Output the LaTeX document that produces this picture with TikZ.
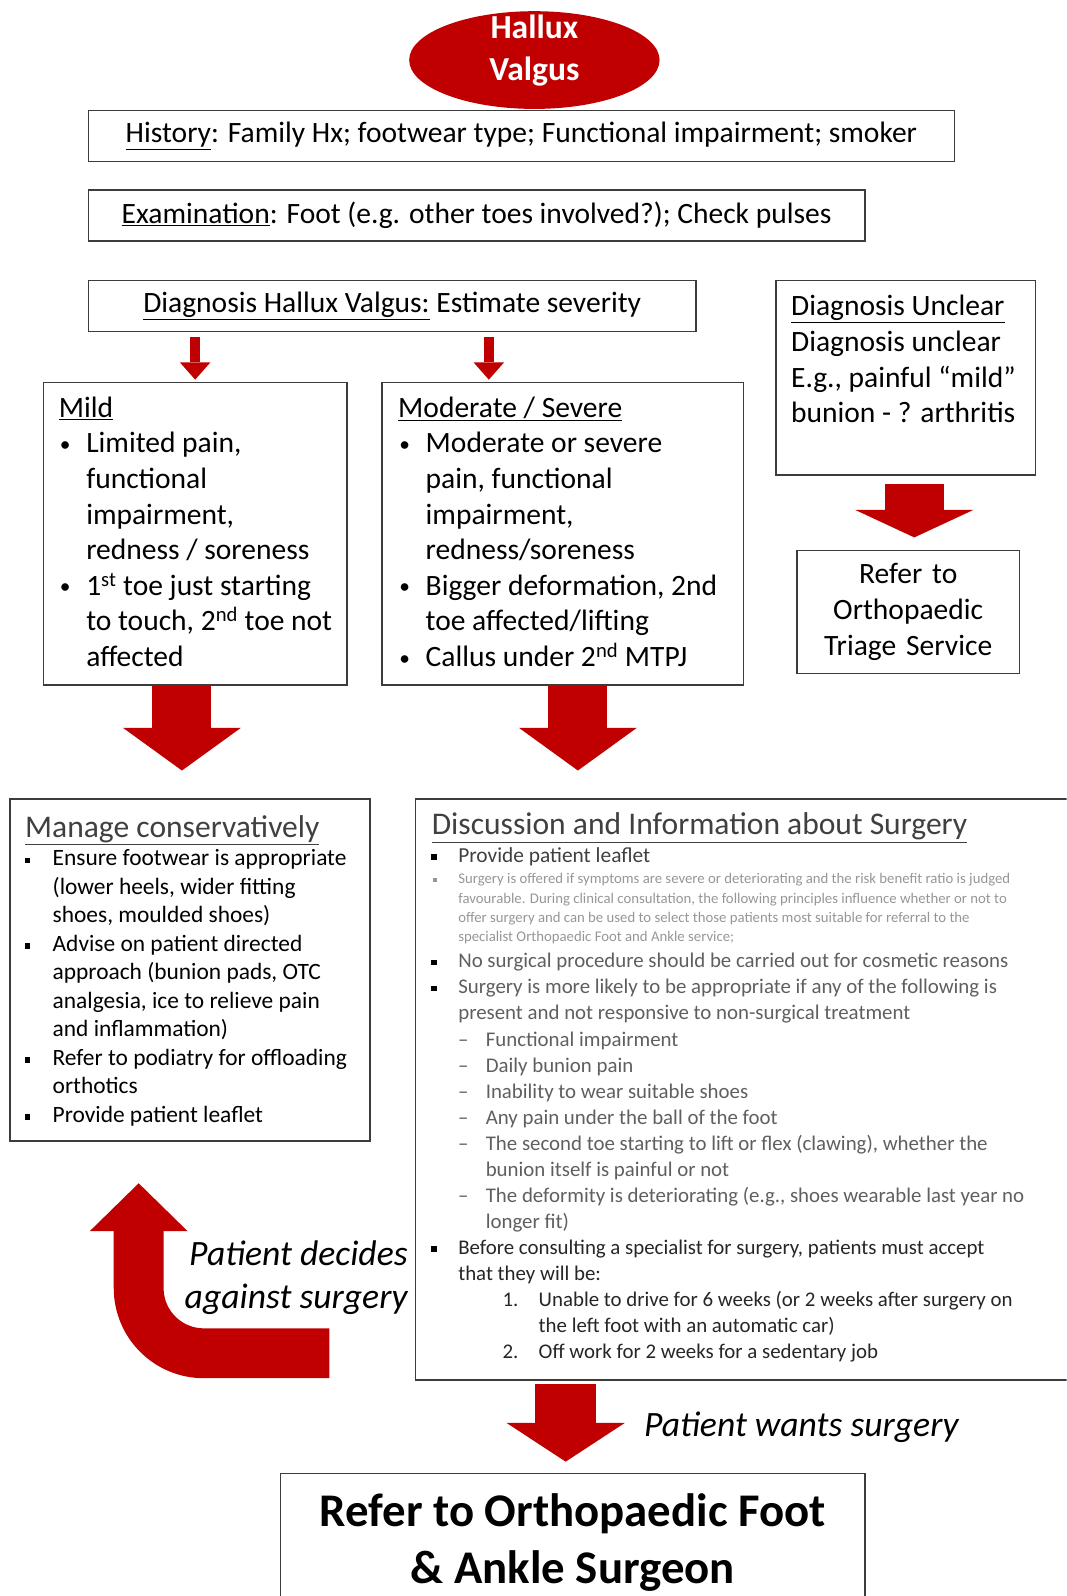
\documentclass[tikz,border=0pt]{standalone}
\usepackage{fontspec}
\setmainfont{Carlito}
\usepackage{enumitem}
\usepackage{xcolor}
\usepackage{tikz}
\usetikzlibrary{shapes.geometric, arrows.meta, positioning, calc}
\definecolor{hvred}{RGB}{192,0,0}
\definecolor{boxline}{RGB}{60,60,60}
\definecolor{titlegray}{RGB}{64,64,64}
\definecolor{midgray}{RGB}{95,95,95}
\definecolor{faintgray}{RGB}{150,150,150}
\SetEnumitemKey{tight}{topsep=0pt, partopsep=0pt, itemsep=0pt, parsep=0pt}
\newcommand{\boxtext}[3]{\makebox[#1][l]{\parbox[t][#2][t]{900pt}{\raggedright #3}}}
\newcommand{\dotbul}{\raisebox{1.5pt}{\fontsize{21pt}{21pt}\selectfont\textbullet}}
\newcommand{\sqbul}{\textcolor{black}{\raisebox{2.6pt}{\rule{5.5pt}{5.5pt}}}}
\newcommand{\smallbul}{\textcolor{faintgray}{\raisebox{1.8pt}{\rule{3.5pt}{3.5pt}}}}

\begin{document}
\begin{tikzpicture}[x=1pt, y=-1pt,
  box/.style={draw=boxline, line width=1.5pt, inner sep=0pt, text=black,
              font=\fontsize{29pt}{35pt}\selectfont},
  linebox/.style={box, minimum height=50pt, anchor=north west},
  oval/.style={ellipse, fill=hvred, minimum width=246pt, minimum height=96pt, inner sep=0pt},
  ovaltext/.style={text=white, align=center, yshift=9pt, inner sep=0pt,
                   font=\fontsize{33pt}{41pt}\selectfont\bfseries},
  smallarr/.style={hvred, line width=10pt, shorten <=5pt, shorten >=2pt,
                   -{Triangle[length=17pt, width=30pt, line width=0pt]}},
  bigarr/.style={hvred, line width=58pt, -{Triangle[length=#1, width=116pt, line width=0pt]}},
  bigarr/.default=42pt,
  backarr/.style={hvred, line width=49pt, rounded corners=64pt, shorten >=41pt,
                  -{Triangle[length=47pt, width=96pt, line width=0pt]}},
  saytext/.style={inner sep=0pt, outer sep=0pt, text=black,
                  font=\fontsize{35pt}{42pt}\selectfont\itshape}
]
\useasboundingbox (0,0) rectangle (1048,1568);
\clip (0,0) rectangle (1048,1568);

% ===== Title =====
\node[oval, label={[ovaltext]center:Hallux\\Valgus}] (hv) at (525,59) {};

% ===== History / examination / diagnosis =====
\node[linebox, minimum width=851pt] (hist) at (86,108)
     {\underline{History}: Family Hx; footwear type; Functional impairment; smoker};
\node[linebox, minimum width=763pt, below right=26.5pt and 0pt of hist.south west] (exam)
     {\underline{Examination}: Foot (e.g. other toes involved?); Check pulses};
\node[linebox, minimum width=597pt, below right=37.5pt and 0pt of exam.south west] (diag)
     {\underline{Diagnosis Hallux Valgus:} Estimate severity};

\node[box, right=77pt of diag.north east, anchor=north west, inner xsep=15pt, inner ysep=14.5pt] (unclear)
     {\boxtext{225pt}{162pt}{\underline{Diagnosis Unclear}\\ Diagnosis unclear\\ E.g., painful “mild”\\ bunion - ? arthritis}};

% ===== Severity boxes =====
\node[box, anchor=north west, inner xsep=15pt, inner ysep=14pt] (mild) at (42,375)
     {\boxtext{268pt}{269pt}{\underline{Mild}
      \begin{itemize}[tight, leftmargin=27pt, labelsep=15.5pt, label=\dotbul]
      \item Limited pain,\\ functional\\ impairment,\\ redness / soreness
      \item 1\textsuperscript{st} toe just starting\\ to touch, 2\textsuperscript{nd} toe not\\ affected
      \end{itemize}}};
\node[box, right=33pt of mild.north east, anchor=north west, inner xsep=16pt, inner ysep=14pt] (mod)
     {\boxtext{323pt}{269pt}{\underline{Moderate / Severe}
      \begin{itemize}[tight, leftmargin=27pt, labelsep=15.5pt, label=\dotbul]
      \item Moderate or severe\\ pain, functional\\ impairment,\\ redness/soreness
      \item Bigger deformation, 2nd\\ toe affected/lifting
      \item Callus under 2\textsuperscript{nd} MTPJ
      \end{itemize}}};

\node[box, anchor=north west, align=center, text width=205pt, minimum width=219pt,
      minimum height=121pt] (triage) at (782,540) {Refer to\\ Orthopaedic\\ Triage Service};

% ===== Management boxes =====
\node[box, anchor=north west, inner xsep=15pt, inner ysep=16.5pt,
      font=\fontsize{23pt}{28pt}\selectfont] (manage) at (9,784)
     {\boxtext{324pt}{303pt}{{\fontsize{31pt}{28pt}\selectfont\color{titlegray}\underline{Manage conservatively}\par}
      \begin{itemize}[tight, leftmargin=27pt, labelsep=22pt, label=\sqbul]
      \item Ensure footwear is appropriate\\ (lower heels, wider fitting\\ shoes, moulded shoes)
      \item Advise on patient directed\\ approach (bunion pads, OTC\\ analgesia, ice to relieve pain\\ and inflammation)
      \item Refer to podiatry for offloading\\ orthotics
      \item Provide patient leaflet
      \end{itemize}}};

\node[box, right=43pt of manage.north east, anchor=north west, inner xsep=16pt, inner ysep=14pt,
      text=midgray, font=\fontsize{20.5pt}{25.6pt}\selectfont] (disc)
     {\boxtext{668pt}{543pt}{{\fontsize{31pt}{27pt}\selectfont\color{titlegray}\underline{Discussion and Information about Surgery}\par}
      \begin{itemize}[tight, leftmargin=26pt, labelsep=21pt, label=\sqbul]
      \item {\fontsize{21pt}{27pt}\selectfont\color{titlegray}Provide patient leaflet\par}
      \vspace{2pt}
      \item[\smallbul] {\fontsize{14.5pt}{19pt}\selectfont\color{faintgray}Surgery is offered if symptoms are severe or deteriorating and the risk benefit ratio is judged\\
        favourable. During clinical consultation,  the following principles influence whether or not to\\
        offer surgery and can be used to select those patients most suitable for referral to the\\
        specialist Orthopaedic Foot and Ankle service;\par}
      \item No surgical procedure should be carried out for cosmetic reasons
      \item Surgery is more likely to be appropriate if any of the following is\\ present and not responsive to non-surgical treatment
        \begin{itemize}[tight, leftmargin=27pt, labelsep=17pt, label=\textendash]
        \item Functional impairment
        \item Daily bunion pain
        \item Inability to wear suitable shoes
        \item Any pain under the ball of the foot
        \item The second toe starting to lift or flex (clawing), whether the\\ bunion itself is painful or not
        \item The deformity is deteriorating (e.g., shoes wearable last year no\\ longer fit)
        \end{itemize}
      \item \color{black!85}Before consulting a specialist for surgery, patients must accept\\ that they will be:
        \begin{enumerate}[tight, leftmargin=79pt, labelsep=20pt, label=\arabic*.]
        \item Unable to drive for 6 weeks (or 2 weeks after surgery on\\ the left foot with an automatic car)
        \item Off work for 2 weeks for a sedentary job
        \end{enumerate}
      \end{itemize}}};

\node[box, anchor=north west, minimum width=574pt, minimum height=135pt, align=center,
      font=\fontsize{46pt}{56pt}\selectfont\bfseries] (final) at (275,1447)
     {Refer to Orthopaedic Foot\\ \& Ankle Surgeon};

% ===== Arrows =====
\draw[smallarr] (diag.south -| mild.north) -- (mild.north);
\draw[smallarr] ($(diag.south -| mod.north)+(-72.5,0)$) -- ($(mod.north)+(-72.5,0)$);
\draw[bigarr=27pt, shorten <=8pt, shorten >=12pt] ($(unclear.south)+(8.5,0)$) -- ($(unclear.south |- triage.north)+(8.5,0)$);
\draw[bigarr, shorten >=27pt] ($(mild.south)+(-13,0)$) -- ($(mild.south |- manage.north)+(-13,0)$);
\draw[bigarr, shorten >=27pt] ($(mod.south)+(15,0)$) -- ($(mod.south |- disc.north)+(15,0)$);
\draw[bigarr=38pt, line width=60pt, shorten <=3pt, shorten >=11pt]
     ($(disc.south -| final.north)+(-7,0)$) -- ($(final.north)+(-7,0)$)
     node[saytext, midway, right=77pt] (wants) {Patient wants surgery};

% ===== Back to conservative care =====
\coordinate (decline) at ($(disc.south west)+(-84,-27)$);
\draw[backarr] (decline) -| ($(manage.south)+(-50.5,0)$);
\node[saytext, align=right, anchor=east] (against) at ($(disc.west |- decline)+(-7,-74)$)
     {Patient decides\\ against surgery};

\end{tikzpicture}
\end{document}
